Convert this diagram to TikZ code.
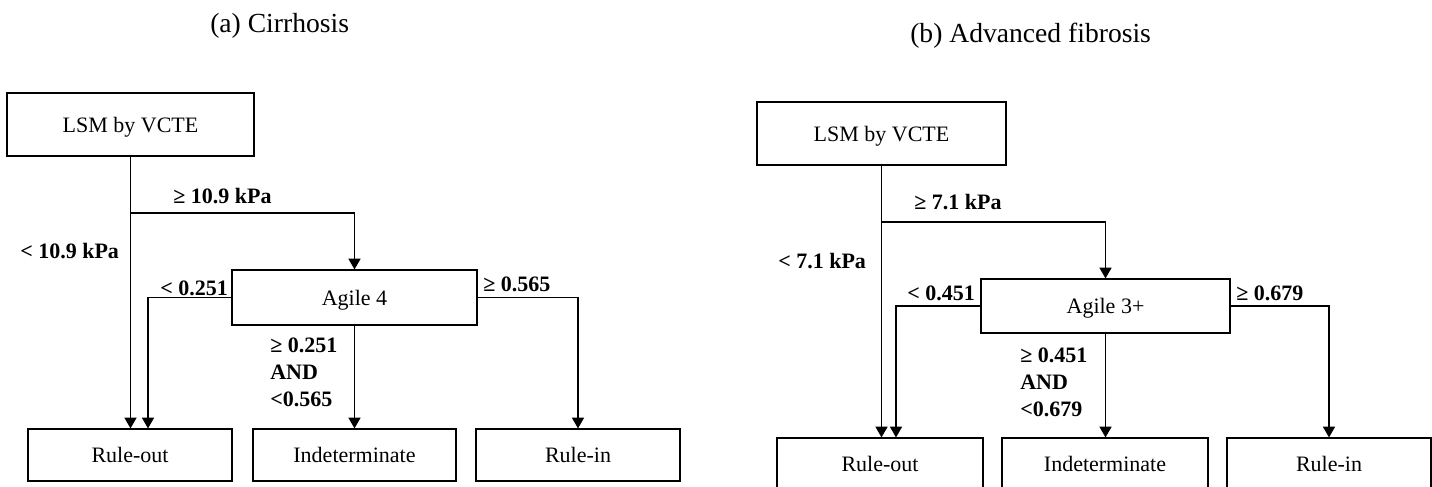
\documentclass[tikz,border=0pt]{standalone}
\usepackage{fontspec}
\setmainfont{Liberation Serif}
\usetikzlibrary{arrows.meta,calc}

\begin{document}
\begin{tikzpicture}[x=0.75pt,y=-0.75pt,
	box/.style={draw, line width=0.9pt, inner sep=0pt, text depth=0pt, minimum width=153pt, minimum height=39pt, font=\fontsize{16.5}{20}\selectfont},
	lbl/.style={inner sep=0pt, anchor=base west, font=\fontsize{16.5}{20}\selectfont\bfseries},
	ttl/.style={inner sep=0pt, anchor=base west, font=\fontsize{20.7}{24}\selectfont},
	arr/.style={line width=0.9pt, -{Triangle[length=8pt,width=9pt]}}]
\useasboundingbox (0,0) rectangle (1432,486);

% (a) cirrhosis
\node[ttl] (titleA) at (210,32) {(a) Cirrhosis};
\node[box, minimum width=185.25pt, minimum height=47.25pt] (lsmA) at (130.5,124.5) {LSM by VCTE};
\node[box, minimum width=183.75pt, minimum height=41.25pt] (agileA) at (354.5,297.5) {Agile 4};
\node[box] (outA) at (130,455) {Rule-out};
\node[box, minimum width=152.25pt] (indA) at (354.5,455) {Indeterminate};
\node[box] (inA) at (578,455) {Rule-in};

\coordinate (splitA) at (130.5,213);
\draw[arr] (lsmA.south) -- (lsmA.south |- outA.north);
\draw[arr] (splitA) -| (agileA.north);
\draw[arr] (agileA.west) -| ([xshift=13.5pt]outA.north);
\draw[arr] (agileA.south) -- (agileA.south |- indA.north);
\draw[arr] (agileA.east) -| (inA.north);

\node[lbl] (geA) at (173,203) {≥ 10.9 kPa};
\node[lbl] (ltA) at (20,258) {< 10.9 kPa};
\node[lbl] (lowA) at (160,295) {< 0.251};
\node[lbl] (highA) at (483,291) {≥ 0.565};
\node[lbl, align=left, anchor=north west, font=\fontsize{16.5}{20.25}\selectfont\bfseries] (midA) at (270,338) {≥ 0.251\\AND\\<0.565};

% (b) advanced fibrosis
\node[ttl] (titleB) at (910,42) {(b) Advanced fibrosis};
\node[box, minimum width=186.75pt, minimum height=47.25pt] (lsmB) at (881.5,133.5) {LSM by VCTE};
\node[box, minimum width=186.75pt, minimum height=40.5pt] (agileB) at (1105.5,306) {Agile 3+};
\node[box, minimum width=154.5pt] (outB) at (880,464) {Rule-out};
\node[box, minimum width=154.5pt] (indB) at (1105,464) {Indeterminate};
\node[box] (inB) at (1329,464) {Rule-in};

\coordinate (splitB) at (881.5,222);
\draw[arr] (lsmB.south) -- (lsmB.south |- outB.north);
\draw[arr] (splitB) -| (agileB.north);
\draw[arr] (agileB.west) -| ([xshift=12pt]outB.north);
\draw[arr] (agileB.south) -- (agileB.south |- indB.north);
\draw[arr] (agileB.east) -| (inB.north);

\node[lbl] (geB) at (914,209) {≥ 7.1 kPa};
\node[lbl] (ltB) at (778,268) {< 7.1 kPa};
\node[lbl] (lowB) at (907,300) {< 0.451};
\node[lbl] (highB) at (1236,300) {≥ 0.679};
\node[lbl, align=left, anchor=north west, font=\fontsize{16.5}{20.25}\selectfont\bfseries] (midB) at (1020,348) {≥ 0.451\\AND\\<0.679};
\end{tikzpicture}
\end{document}
